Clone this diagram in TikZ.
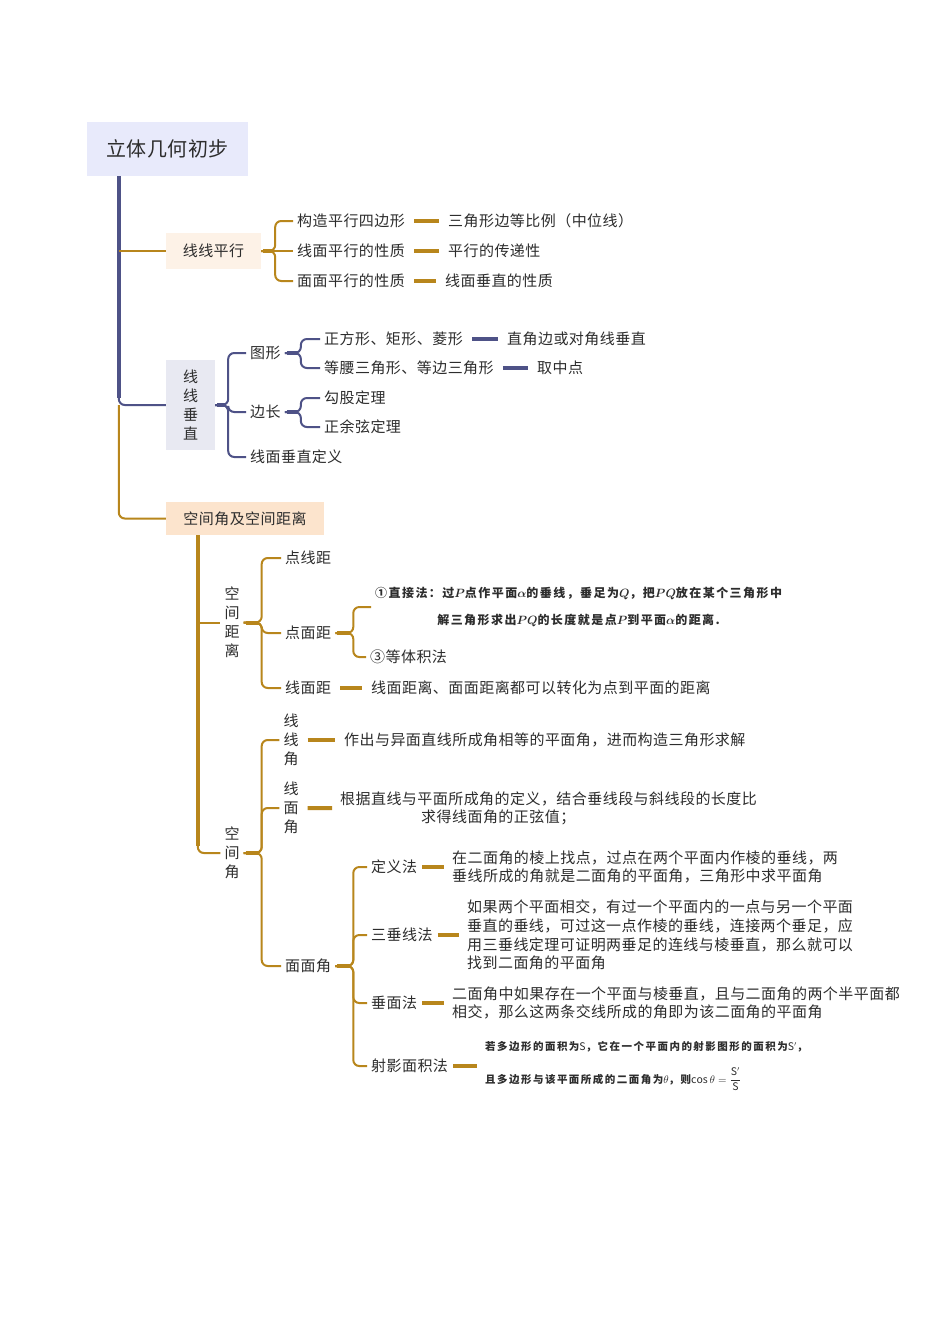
\documentclass[tikz,border=0pt]{standalone}
\usepackage{amsmath}
\usepackage{fontspec}
\setmainfont[LetterSpace=3]{Noto Sans CJK SC}
\newfontfamily\notefont[LetterSpace=12]{Noto Sans CJK SC}
\newfontfamily\smallnotefont[LetterSpace=14]{Noto Sans CJK SC}
\usepackage{tikz}
\usetikzlibrary{calc}
\definecolor{white}{rgb}{1.0, 1.0, 1.0}
\definecolor{textgray}{RGB}{45,45,45}
\definecolor{navy}{RGB}{78,82,135}
\definecolor{gold}{RGB}{184,134,28}
\definecolor{rootfill}{RGB}{232,234,251}
\definecolor{pxfill}{RGB}{253,242,231}
\definecolor{czfill}{RGB}{232,233,242}
\definecolor{kjfill}{RGB}{252,228,205}
\pgfdeclarelayer{edgelayer}
\pgfdeclarelayer{nodelayer}
\pgfsetlayers{edgelayer,nodelayer,main}
\newcommand{\mapfont}{\fontsize{15}{18.6}\selectfont}
\newcommand{\vertfont}{\fontsize{15}{19}\selectfont}
\tikzstyle{box}=[inner sep=0pt, text=textgray, font=\mapfont, align=center]
\tikzstyle{txt}=[anchor=west, inner xsep=4pt, inner ysep=1pt, text=textgray, font=\mapfont]
\tikzstyle{vtxt}=[inner xsep=4pt, inner ysep=1pt, text=textgray, font=\vertfont, align=center]
\tikzstyle{note}=[anchor=west, inner xsep=4pt, inner ysep=1pt, text=textgray, font=\notefont\bfseries\fontsize{12}{27}\selectfont, align=center]
\tikzstyle{gedge}=[draw=gold, line width=2pt, rounded corners=6pt]
\tikzstyle{nedge}=[draw=navy, line width=2pt, rounded corners=6pt]
\tikzstyle{gtip}=[draw=gold, line width=4pt, shorten <=2pt, shorten >=3pt]
\tikzstyle{ntip}=[draw=navy, line width=4pt, shorten <=2pt, shorten >=3pt]
\tikzstyle{gdash}=[draw=gold, line width=4pt, shorten <=5pt, shorten >=5pt]
\tikzstyle{ndash}=[draw=navy, line width=4pt, shorten <=5pt, shorten >=5pt]

\begin{document}
\begin{tikzpicture}[x=1pt, y=-1pt]
        \useasboundingbox (0, 0) rectangle (950, 1344);
        \begin{pgfonlayer}{nodelayer}
            \node [style = box, fill=rootfill, minimum width=161pt, minimum height=54pt, font=\fontsize{20}{24}\selectfont] (root) at (167.5, 149) {立体几何初步};

            \node [style = box, fill=pxfill, minimum width=95pt, minimum height=36pt] (lxpx) at (213.5, 251) {线线平行};
            \node [style = txt] (a1) at (293, 221) {构造平行四边形};
            \node [style = txt] (a2) at (293, 251) {线面平行的性质};
            \node [style = txt] (a3) at (293, 281) {面面平行的性质};
            \node [style = txt] (a1r) at (444, 221) {三角形边等比例（中位线）};
            \node [style = txt] (a2r) at (444, 251) {平行的传递性};
            \node [style = txt] (a3r) at (441, 281) {线面垂直的性质};

            \node [style = box, fill=czfill, minimum width=49pt, minimum height=90pt, font=\vertfont] (lxcz) at (190.5, 405) {线\\线\\垂\\直};
            \node [style = txt] (b1) at (246, 353) {图形};
            \node [style = txt] (b2) at (246, 412) {边长};
            \node [style = txt] (b3) at (246, 457) {线面垂直定义};
            \node [style = txt] (b11) at (320, 339) {正方形、矩形、菱形};
            \node [style = txt] (b12) at (320, 368) {等腰三角形、等边三角形};
            \node [style = txt] (b11r) at (503, 339) {直角边或对角线垂直};
            \node [style = txt] (b12r) at (533, 368) {取中点};
            \node [style = txt] (b21) at (320, 398) {勾股定理};
            \node [style = txt] (b22) at (320, 427) {正余弦定理};

            \node [style = box, fill=kjfill, minimum width=158pt, minimum height=33pt] (kjj) at (245, 518.5) {空间角及空间距离};

            \node [style = vtxt] (kjl) at (232, 622.5) {空\\间\\距\\离};
            \node [style = txt] (c1) at (281, 558) {点线距};
            \node [style = txt] (c2) at (281, 633) {点面距};
            \node [style = txt] (c3) at (281, 688) {线面距};
            \node [style = note] (c21) at (371, 607) {①直接法：过$\boldsymbol{P}$点作平面$\boldsymbol{\alpha}$的垂线，垂足为$\boldsymbol{Q}$，把$\boldsymbol{PQ}$放在某个三角形中\\解三角形求出$\boldsymbol{PQ}$的长度就是点$\boldsymbol{P}$到平面$\boldsymbol{\alpha}$的距离.};
            \node [style = txt] (c22) at (366, 657) {③等体积法};
            \node [style = txt] (c3r) at (367, 688) {线面距离、面面距离都可以转化为点到平面的距离};

            \node [style = vtxt] (kja) at (232, 853) {空\\间\\角};
            \node [style = vtxt] (d1) at (291, 740) {线\\线\\角};
            \node [style = vtxt] (d2) at (291, 808) {线\\面\\角};
            \node [style = txt] (d3) at (281, 966) {面面角};
            \node [style = txt] (d1r) at (340, 740) {作出与异面直线所成角相等的平面角，进而构造三角形求解};
            \node [style = txt, align=left] (d2r) at (336, 808.5) {根据直线与平面所成角的定义，结合垂线段与斜线段的长度比\\\hspace*{81pt}求得线面角的正弦值；};

            \node [style = txt] (e1) at (367, 867) {定义法};
            \node [style = txt] (e2) at (367, 935) {三垂线法};
            \node [style = txt] (e3) at (367, 1003) {垂面法};
            \node [style = txt] (e4) at (367, 1066) {射影面积法};
            \node [style = txt, align=left] (e1r) at (448, 867) {在二面角的棱上找点，过点在两个平面内作棱的垂线，两\\垂线所成的角就是二面角的平面角，三角形中求平面角};
            \node [style = txt, align=left] (e2r) at (463, 935) {如果两个平面相交，有过一个平面内的一点与另一个平面\\垂直的垂线，可过这一点作棱的垂线，连接两个垂足，应\\用三垂线定理可证明两垂足的连线与棱垂直，那么就可以\\找到二面角的平面角};
            \node [style = txt, align=left] (e3r) at (448, 1003) {二面角中如果存在一个平面与棱垂直，且与二面角的两个半平面都\\相交，那么这两条交线所成的角即为该二面角的平面角};
            \node [style = note, align=left, font=\smallnotefont\bfseries\fontsize{10.5}{14}\selectfont] (e4r) at (481, 1066) {若多边形的面积为$\mathrm{S}$，它在一个平面内的射影图形的面积为$\mathrm{S}'$，\\[15pt]且多边形与该平面所成的二面角为$\theta$，则$\cos\theta=\dfrac{\mathrm{S}'}{\mathrm{S}}$};
        \end{pgfonlayer}

        \begin{pgfonlayer}{edgelayer}
            \fill [white] (0, 0) rectangle (950, 1344);

            % trunk from the title
            \coordinate (rt) at ($(root.south west)+(32,0)$);
            \draw [style = nedge] (rt) |- (lxcz.west);
            \draw [navy, line width=4.5pt] (rt) -- ($(rt |- lxcz.west)+(0,-7)$);
            \draw [style = gedge] (rt |- lxpx.west) -- (lxpx.west);
            \draw [style = gedge] (rt |- lxcz.west) |- (kjj.west);

            % line-line parallel
            \coordinate (pxb) at ($(lxpx.east)+(14,0)$);
            \draw [style = gtip] (lxpx.east) -- (pxb);
            \draw [style = gedge] (lxpx.east) -- (pxb) |- (a1.west);
            \draw [style = gedge] (lxpx.east) -- (a2.west);
            \draw [style = gedge] (lxpx.east) -- (pxb) |- (a3.west);
            \draw [style = gdash] (a1) to (a1r);
            \draw [style = gdash] (a2) to (a2r);
            \draw [style = gdash] (a3) to (a3r);

            % line-line perpendicular
            \coordinate (czb) at ($(lxcz.east)+(13,0)$);
            \draw [style = ntip] (lxcz.east) -- (czb);
            \draw [style = nedge] (lxcz.east) -- (czb) |- (b1.west);
            \draw [style = nedge] (lxcz.east) -- (czb) |- (b2.west);
            \draw [style = nedge] (lxcz.east) -- (czb) |- (b3.west);

            \coordinate (b1b) at ($(b1.east)+(16,0)$);
            \draw [style = ntip] (b1.east) -- (b1b);
            \draw [style = nedge] (b1.east) -- (b1b) |- (b11.west);
            \draw [style = nedge] (b1.east) -- (b1b) |- (b12.west);
            \draw [style = ndash] (b11) to (b11r);
            \draw [style = ndash] (b12) to (b12r);

            \coordinate (b2b) at ($(b2.east)+(16,0)$);
            \draw [style = ntip] (b2.east) -- (b2b);
            \draw [style = nedge] (b2.east) -- (b2b) |- (b21.west);
            \draw [style = nedge] (b2.east) -- (b2b) |- (b22.west);

            % trunk under space angle and distance
            \coordinate (kt) at ($(kjj.south west)+(32,0)$);
            \draw [style = gedge] (kt) |- (kja.west);
            \draw [gold, line width=3.5pt] (kt) -- ($(kt |- kja.west)+(0,-7)$);
            \draw [style = gedge] (kt |- kjl.west) -- (kjl.west);

            % distance
            \coordinate (klb) at ($(kjl.east)+(18,0)$);
            \draw [style = gtip] (kjl.east) -- (klb);
            \draw [style = gedge] (kjl.east) -- (klb) |- (c1.west);
            \draw [style = gedge] (kjl.east) -- (klb) |- (c2.west);
            \draw [style = gedge] (kjl.east) -- (klb) |- (c3.west);
            \draw [style = gdash] (c3) to (c3r);

            \coordinate (c2b) at ($(c2.east)+(18,0)$);
            \draw [style = gtip] (c2.east) -- (c2b);
            \draw [style = gedge] (c2.east) -- (c2b) |- (c21.west);
            \draw [style = gedge] (c2.east) -- (c2b) |- (c22.west);

            % angles
            \coordinate (kab) at ($(kja.east)+(18,0)$);
            \draw [style = gtip] (kja.east) -- (kab);
            \draw [style = gedge] (kja.east) -- (kab) |- (d1.west);
            \draw [style = gedge] (kja.east) -- (kab) |- (d2.west);
            \draw [style = gedge] (kja.east) -- (kab) |- (d3.west);
            \draw [style = gdash] (d1) to (d1r);
            \draw [style = gdash, shorten >=4pt] (d2) to (d2r);

            \coordinate (d3b) at ($(d3.east)+(18,0)$);
            \draw [style = gtip] (d3.east) -- (d3b);
            \draw [style = gedge] (d3.east) -- (d3b) |- (e1.west);
            \draw [style = gedge] (d3.east) -- (d3b) |- (e2.west);
            \draw [style = gedge] (d3.east) -- (d3b) |- (e3.west);
            \draw [style = gedge] (d3.east) -- (d3b) |- (e4.west);
            \draw [style = gdash, shorten <=1pt, shorten >=4pt] (e1) to (e1r);
            \draw [style = gdash, shorten <=1pt, shorten >=4pt] (e2) to (e2r);
            \draw [style = gdash, shorten <=1pt, shorten >=4pt] (e3) to (e3r);
            \draw [style = gdash, shorten <=1pt, shorten >=4pt] (e4) to (e4r);
        \end{pgfonlayer}
    \end{tikzpicture}
\end{document}
